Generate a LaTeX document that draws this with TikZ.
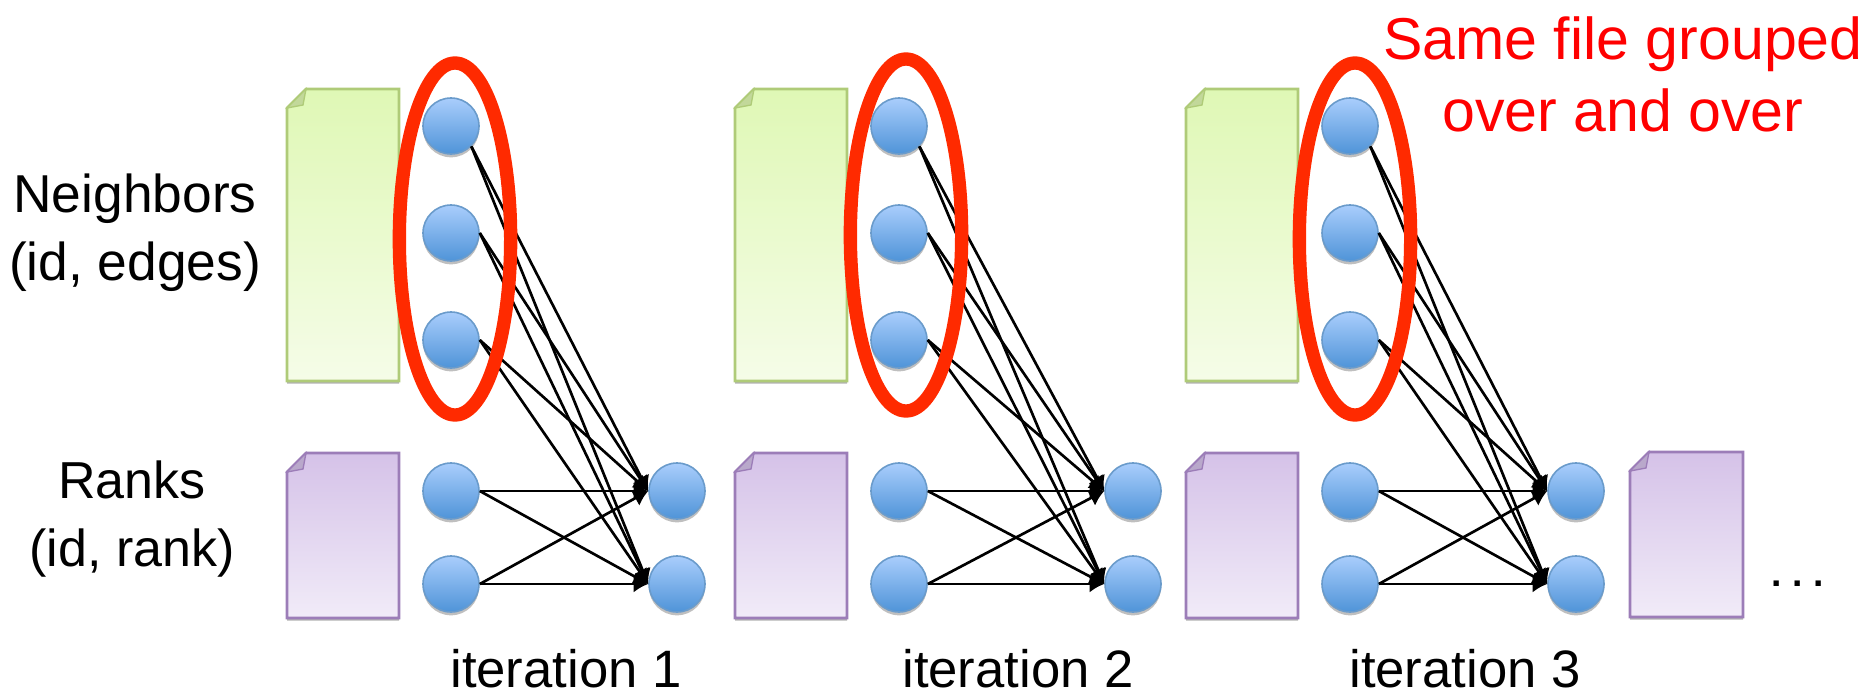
\documentclass[tikz,border=0pt]{standalone}
\usepackage{fontspec}
\setmainfont{Liberation Sans}
\usetikzlibrary{arrows.meta,shadows,shapes.geometric}
\definecolor{bluetop}{HTML}{A9CDFC}
\definecolor{bluebot}{HTML}{4F94D8}
\definecolor{blueline}{HTML}{6A9BCB}
\definecolor{redring}{HTML}{FF2A00}
\definecolor{gtop}{HTML}{DFF8B5}\definecolor{gbot}{HTML}{F5FCE8}\definecolor{gline}{HTML}{AFCB78}\definecolor{gfold}{HTML}{C2D89A}
\definecolor{ptop}{HTML}{D5C2E8}\definecolor{pbot}{HTML}{F1EBF8}\definecolor{pline}{HTML}{9C7DB8}\definecolor{pfold}{HTML}{B9A8CB}
\tikzset{
  x=0.75pt,y=-0.75pt,
  dot/.style={circle,minimum size=42pt,inner sep=0pt,draw=blueline,line width=1.2pt,top color=bluetop,bottom color=bluebot,drop shadow={shadow xshift=0pt,shadow yshift=-2.5pt,opacity=.25,fill=black}},
  edge/.style={draw=black,line width=2pt,-{Latex[length=11pt,width=13pt]}},
  ring/.style={ellipse,draw=redring,line width=10pt,minimum width=83.5pt,minimum height=264pt,inner sep=0pt,outer sep=0pt},
  lab/.style={font=\fontsize{39}{51}\selectfont,align=center,inner sep=0pt},
  iterlab/.style={font=\fontsize{39.5}{40}\selectfont,inner sep=0pt,anchor=base},
}
\newcommand{\docshape}[7]{%
  \shade[top color=#5,bottom color=#6,draw=#7,line width=2pt,drop shadow={shadow xshift=0pt,shadow yshift=-2pt,opacity=.3,fill=black}]
    (#1,#2+19) -- (#1+19,#2) -- (#3,#2) -- (#3,#4) -- (#1,#4) -- cycle;
}
\newcommand{\foldshape}[4]{%
  \fill[#3,draw=#4,line width=1pt] (#1,#2+19) -- (#1+19,#2) -- (#1+16,#2+16) -- cycle;
}
\newcommand{\iter}[3]{%
  \docshape{287+#2}{89}{399+#2}{381}{gtop}{gbot}{gline}\foldshape{287+#2}{89}{gfold}{gline}
  \docshape{287+#2}{453}{399+#2}{618}{ptop}{pbot}{pline}\foldshape{287+#2}{453}{pfold}{pline}
  \node[dot] (#1a) at (451+#2,126) {};
  \node[dot] (#1b) at (451+#2,233) {};
  \node[dot] (#1c) at (451+#2,340) {};
  \node[dot] (#1d) at (451+#2,491) {};
  \node[dot] (#1e) at (451+#2,584) {};
  \node[dot] (#1f) at (677+#3,491) {};
  \node[dot] (#1g) at (677+#3,584) {};
  \foreach \t in {f,g} {
    \draw[edge] (#1a.-45) -- (#1\t.west);
    \foreach \s in {b,c,d,e} \draw[edge] (#1\s.east) -- (#1\t.west);
  }
}
\begin{document}
\begin{tikzpicture}
\useasboundingbox (0,0) rectangle (1870,693);
\iter{p}{0}{0}
\iter{q}{448}{456}
\iter{r}{899}{899}
\docshape{1630}{452}{1743}{617}{ptop}{pbot}{pline}\foldshape{1630}{452}{pfold}{pline}
\node[ring] (e1) at (455,239) {};
\node[ring] (e2) at (906,235) {};
\node[ring] (e3) at (1355,239) {};
\node[lab,font=\fontsize{40}{51}\selectfont] (n1) at (135,233) {Neighbors\\(id, edges)};
\node[lab] (n2) at (132,519) {Ranks\\(id, rank)};
\node[iterlab] (i1) at (566,687) {iteration 1};
\node[iterlab] (i2) at (1018,687) {iteration 2};
\node[iterlab] (i3) at (1465,687) {iteration 3};
\node[lab,anchor=base,font=\bfseries\fontsize{28}{30}\selectfont] (dots) at (1798,586) {.\hspace{8pt}.\hspace{8pt}.};
\node[lab,text=red,font=\fontsize{44.3}{54}\selectfont] (t) at (1623,74) {Same file grouped\\over and over};
\end{tikzpicture}
\end{document}
